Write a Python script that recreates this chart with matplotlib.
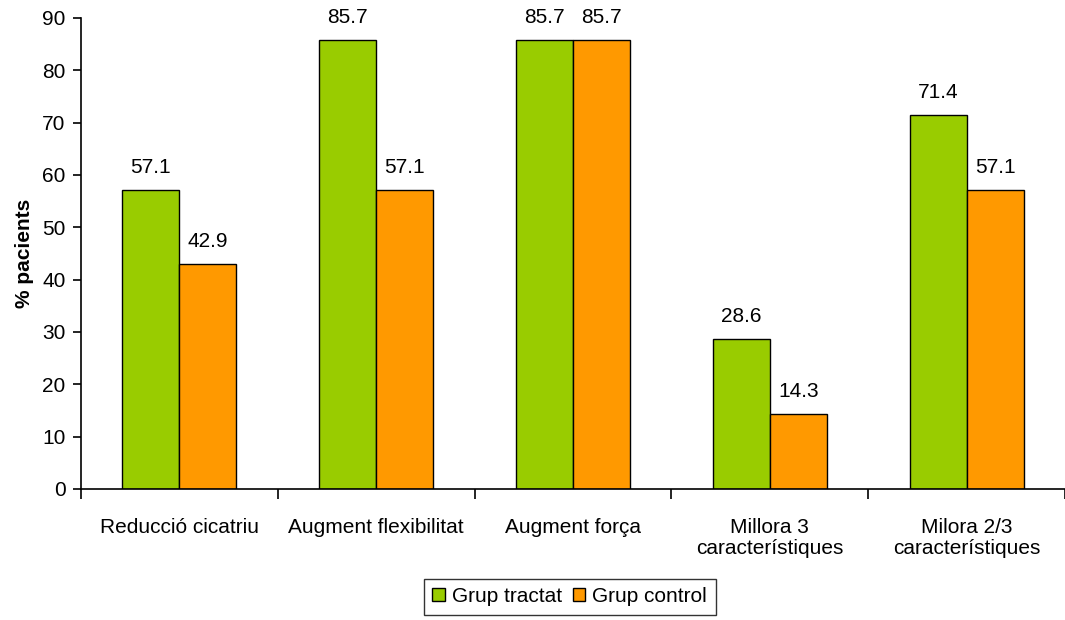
import numpy as np
import matplotlib
matplotlib.use('Agg')
import matplotlib.pyplot as plt

plt.rcParams['font.family'] = ['Liberation Sans', 'DejaVu Sans']

categories = ['Reducció cicatriu', 'Augment flexibilitat', 'Augment força',
              'Millora 3\ncaracterístiques', 'Milora 2/3\ncaracterístiques']
tractat = [57.1, 85.7, 85.7, 28.6, 71.4]
control = [42.9, 57.1, 85.7, 14.3, 57.1]
series_names = ['Grup tractat', 'Grup control']

fig = plt.figure(figsize=(10.65, 6.2), dpi=100)
ax = fig.add_axes([0.076, 0.2113, 0.924, 0.7597])

x = np.arange(len(categories))
w = 0.29
b1 = ax.bar(x - w / 2, tractat, w, color='#99cc00', edgecolor='black', linewidth=1, label=series_names[0])
b2 = ax.bar(x + w / 2, control, w, color='#ff9900', edgecolor='black', linewidth=1, label=series_names[1])

for bars, vals in [(b1, tractat), (b2, control)]:
    for r, v in zip(bars, vals):
        ax.text(r.get_x() + r.get_width() / 2, v + 2.6, f'{v:.1f}', ha='center', va='bottom', fontsize=15)

ax.set_xlim(-0.5, len(categories) - 0.5)
ax.set_ylim(0, 90)
ax.set_yticks(range(0, 91, 10))
ax.set_xticks(x)
ax.set_xticklabels(categories, fontsize=15, linespacing=1.15)
ax.set_xticks(np.arange(-0.5, len(categories), 1), minor=True)
ax.tick_params(axis='x', which='major', length=0, pad=21)
ax.tick_params(axis='x', which='minor', length=7, width=1.2, direction='out')
ax.tick_params(axis='y', labelsize=15, length=6, width=1.2, direction='out', pad=5)
for s in ['top', 'right']:
    ax.spines[s].set_visible(False)
for s in ['left', 'bottom']:
    ax.spines[s].set_linewidth(1.2)

ax.set_ylabel('% pacients', fontsize=15, fontweight='bold', labelpad=6)

leg = fig.legend(loc='lower center', bbox_to_anchor=(0.535, -0.008), ncol=2, fontsize=15,
                 frameon=True, fancybox=False, edgecolor='black', handlelength=0.6,
                 handleheight=0.6, handletextpad=0.35, columnspacing=0.5, borderpad=0.4)
leg.get_frame().set_linewidth(1)

fig.savefig('out.png', dpi=100)
